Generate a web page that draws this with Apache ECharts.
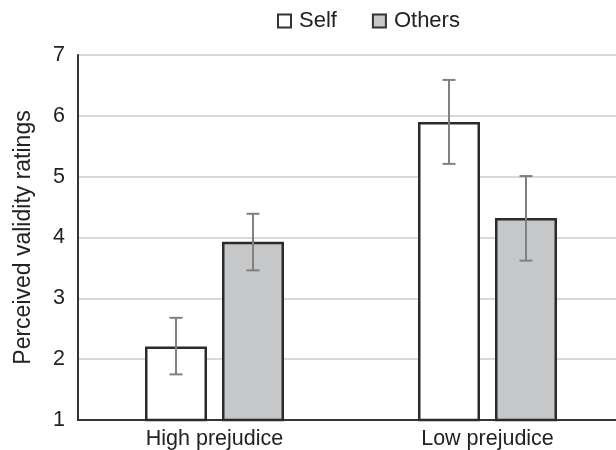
<!DOCTYPE html>
<html>
<head>
<meta charset="utf-8">
<script src="https://cdn.jsdelivr.net/npm/echarts@6/dist/echarts.min.js"></script>
<style>html,body{margin:0;padding:0;background:#fff}#c{width:616px;height:450px}</style>
</head>
<body>
<div id="c"></div>
<script>
var categories = ['High prejudice', 'Low prejudice'];
var seriesNames = ['Self', 'Others'];
var selfValues = [2.21, 5.90];
var othersValues = [3.93, 4.32];
var selfErrLow = [1.75, 5.21];
var selfErrHigh = [2.68, 6.59];
var othersErrLow = [3.46, 3.62];
var othersErrHigh = [4.39, 5.01];
var yTicks = [1, 2, 3, 4, 5, 6, 7];

var FONT = 'Liberation Sans, Arial, sans-serif';
var BAR_W = 62, GAP = 15;

function errData(lo, hi) {
  return categories.map(function (c, i) { return [i, lo[i], hi[i]]; });
}
function errSeries(lo, hi, offset) {
  return {
    type: 'custom',
    z: 10,
    silent: true,
    data: errData(lo, hi),
    renderItem: function (params, api) {
      var pLo = api.coord([api.value(0), api.value(1)]);
      var pHi = api.coord([api.value(0), api.value(2)]);
      var x = pLo[0] + offset;
      var cap = 6.5;
      var st = { stroke: '#808080', lineWidth: 2 };
      return {
        type: 'group',
        children: [
          { type: 'line', shape: { x1: x, y1: pLo[1], x2: x, y2: pHi[1] }, style: st },
          { type: 'line', shape: { x1: x - cap, y1: pLo[1], x2: x + cap, y2: pLo[1] }, style: st },
          { type: 'line', shape: { x1: x - cap, y1: pHi[1], x2: x + cap, y2: pHi[1] }, style: st }
        ]
      };
    }
  };
}

var chart = echarts.init(document.getElementById('c'), null, { renderer: 'canvas' });
chart.setOption({
  animation: false,
  textStyle: { fontFamily: FONT },
  legend: {
    top: 10,
    left: 277,
    padding: 0,
    itemGap: 35,
    itemWidth: 13,
    itemHeight: 13,
    icon: 'rect',
    data: seriesNames,
    textStyle: { fontSize: 22, color: '#222', fontFamily: FONT, padding: [0, 0, 0, 3] },
    itemStyle: { borderColor: '#333', borderWidth: 2 }
  },
  grid: { left: 78, width: 546, top: 55, bottom: 30, containLabel: false, outerBoundsMode: 'none' },
  xAxis: {
    type: 'category',
    data: categories,
    axisLine: { show: true, lineStyle: { color: '#333', width: 2 } },
    axisTick: { show: false },
    axisLabel: { fontSize: 21.5, color: '#222', margin: 8, fontFamily: FONT },
    splitLine: { show: false }
  },
  yAxis: {
    type: 'value',
    min: 1, max: 7, interval: 1,
    name: 'Perceived validity ratings',
    nameLocation: 'middle',
    nameRotate: 90,
    nameGap: 43,
    nameTextStyle: { fontSize: 23, color: '#222', fontFamily: FONT },
    axisLine: { show: true, lineStyle: { color: '#333', width: 2 } },
    axisTick: { show: false },
    axisLabel: {
      fontSize: 21.5, color: '#222', margin: 13, fontFamily: FONT,
      formatter: function (v) { return yTicks.indexOf(v) >= 0 ? String(v) : ''; }
    },
    splitLine: { show: true, lineStyle: { color: '#d9d9d9', width: 2 } }
  },
  series: [
    {
      name: seriesNames[0], type: 'bar', data: selfValues,
      barWidth: BAR_W, barGap: (GAP / BAR_W * 100) + '%',
      itemStyle: { color: '#ffffff', borderColor: '#2b2b2b', borderWidth: 2.5 }
    },
    {
      name: seriesNames[1], type: 'bar', data: othersValues,
      barWidth: BAR_W,
      itemStyle: { color: '#c6c7c9', borderColor: '#2b2b2b', borderWidth: 2.5 }
    },
    errSeries(selfErrLow, selfErrHigh, -(BAR_W + GAP) / 2),
    errSeries(othersErrLow, othersErrHigh, (BAR_W + GAP) / 2)
  ]
});
</script>
</body>
</html>
